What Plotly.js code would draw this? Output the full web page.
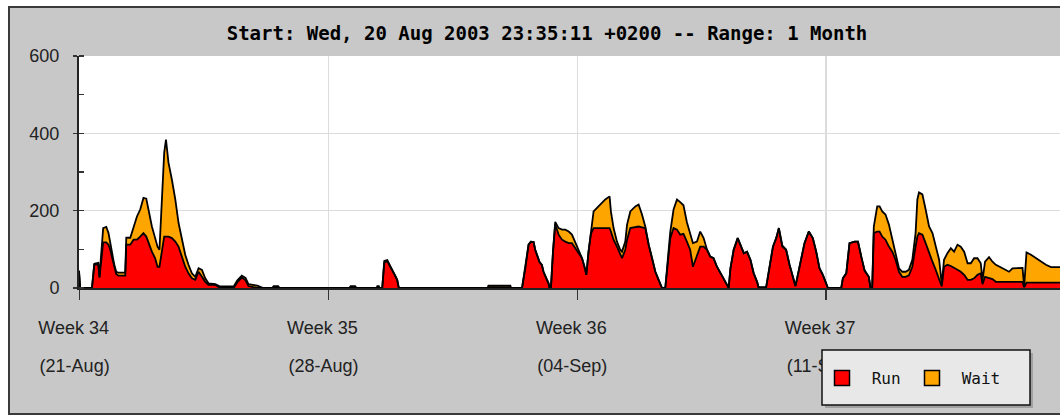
<!DOCTYPE html>
<html>
<head>
<meta charset="utf-8">
<script src="https://cdn.plot.ly/plotly-3.0.1.min.js"></script>
<style>
  html, body { margin: 0; padding: 0; overflow: hidden; background: #ffffff; width: 1060px; height: 417px; }
  #frame { position: absolute; left: 8px; top: 6px; width: 1300px; height: 405px; background: #c8c8c8; border: 2px solid #3a3a3a; }
  #chart { position: absolute; left: 0; top: 0; width: 1200px; height: 417px; }
</style>
</head>
<body>
<div id="frame"></div>
<div id="chart"></div>
<script>
// Hours since 21-Aug-2003 00:00 (chart starts 20 Aug 23:35:11)
const hours = [
  -0.4, 0.4, 8.3, 9.9, 12.6, 13.4, 15.9, 18.0, 19.5, 20.7, 21.8, 23.4, 24.7, 26.1, 30.8, 31.5, 34.2, 36.4, 38.7, 40.9,
  43.1, 45.0, 46.5, 48.8, 51.0, 52.6, 53.9, 57.1, 58.3, 60.0, 62.3, 64.6, 66.8, 69.1, 71.3, 73.5, 75.8, 78.1, 80.3, 82.6,
  84.8, 87.0, 91.6, 94.9, 104.0, 106.5, 109.5, 112.0, 114.0, 120.0, 123.0, 124.0, 130.0, 131.0, 134.0, 135.0, 182.0, 183.0, 186.0, 187.0,
  200.5, 201.0, 202.0, 202.5, 204.3, 205.7, 207.7, 209.7, 211.0, 212.8, 214.4, 215.5, 275.5, 276.0, 290.8, 291.3, 298.7, 300.9, 302.0, 303.1,
  304.7, 306.5, 307.6, 308.8, 310.5, 312.1, 313.2, 315.1, 316.6, 317.3, 318.2, 319.6, 321.1, 323.4, 325.7, 327.9, 330.2, 332.4, 334.7, 336.9,
  339.2, 341.4, 342.1, 343.6, 345.2, 347.0, 349.3, 351.5, 354.9, 357.8, 358.7, 360.5, 362.8, 365.0, 366.2, 368.4, 369.6, 371.8, 375.2, 377.4,
  379.7, 381.9, 384.2, 386.5, 388.7, 390.9, 393.2, 395.4, 396.6, 398.8, 401.0, 403.3, 405.5, 407.7, 410.0, 412.2, 414.1, 416.8, 419.0, 421.3,
  423.6, 425.8, 428.0, 430.3, 432.6, 434.8, 437.1, 438.2, 439.4, 441.6, 444.3, 446.1, 448.4, 450.6, 452.9, 455.1, 457.4, 458.5, 459.0, 463.5,
  465.8, 468.1, 470.3, 472.1, 474.4, 477.0, 479.3, 481.5, 483.3, 484.9, 487.1, 489.4, 492.3, 495.0, 497.3, 499.5, 501.8, 504.0, 505.2, 514.2,
  515.3, 517.6, 519.8, 523.2, 525.5, 527.8, 530.0, 532.8, 534.0, 535.1, 536.2, 538.5, 540.1, 541.9, 544.1, 546.4, 548.7, 550.9, 553.2, 555.4,
  557.7, 559.9, 562.2, 564.4, 565.6, 566.7, 569.0, 571.2, 573.5, 575.8, 578.0, 580.3, 582.1, 583.6, 585.9, 588.2, 590.4, 592.7, 594.9, 597.2,
  599.5, 601.7, 603.9, 606.2, 608.4, 609.6, 611.3, 614.0, 616.3, 618.6, 623.1, 627.5, 629.8, 634.3, 636.6, 637.7, 639.3, 642.3, 645.6, 649.0,
  652.4, 655.8, 659.2, 662.0
];
const runJobs = [
  40, 0, 0, 60, 62, 27, 118, 118, 112, 99, 81, 55, 36, 32, 32, 112, 112, 125, 125, 133,
  142, 133, 116, 94, 77, 55, 55, 133, 133, 133, 129, 120, 107, 81, 55, 38, 25, 21, 42, 29,
  16, 8, 8, 0, 0, 15, 27, 20, 5, 0, 0, 0, 0, 0, 0, 0, 0, 0, 0, 0,
  0, 0, 0, 0, 0, 65, 70, 55, 47, 34, 21, 0, 0, 2, 2, 0, 0, 51, 86, 112,
  120, 119, 99, 86, 67, 60, 42, 25, 12, 0, 0, 94, 165, 138, 125, 120, 116, 116, 103, 90,
  77, 47, 34, 94, 140, 155, 155, 155, 155, 155, 146, 125, 107, 86, 77, 99, 125, 155, 157, 159,
  157, 155, 112, 77, 42, 21, 0, 0, 51, 129, 155, 151, 138, 140, 120, 99, 55, 86, 107, 107,
  99, 81, 77, 55, 38, 21, 8, 0, 51, 99, 129, 112, 90, 94, 73, 38, 16, 0, 1, 1,
  60, 107, 129, 155, 107, 99, 60, 29, 5, 34, 77, 116, 146, 129, 94, 51, 34, 12, 0, 0,
  25, 38, 116, 120, 120, 80, 45, 29, 0, 0, 142, 146, 146, 133, 125, 107, 94, 73, 42, 29,
  29, 33, 55, 107, 133, 142, 138, 116, 90, 68, 47, 21, 4, 55, 60, 57, 51, 47, 42, 34,
  21, 21, 25, 34, 38, 10, 29, 25, 23, 16, 16, 16, 16, 16, 16, 2, 14, 14, 14, 14,
  14, 14, 14, 14
];
const waitJobs = [
  5, 0, 0, 3, 3, 2, 37, 40, 30, 17, 9, 5, 6, 8, 8, 18, 18, 34, 60, 70,
  91, 98, 87, 65, 52, 52, 44, 217, 251, 191, 151, 109, 61, 44, 31, 22, 13, 8, 9, 18,
  9, 4, 2, 4, 4, 5, 5, 6, 5, 6, 3, 0, 0, 5, 5, 0, 0, 5, 5, 0,
  0, 5, 5, 0, 0, 5, 2, 2, 1, 1, 0, 0, 0, 4, 4, 0, 0, 0, 0, 0,
  0, 0, 0, 0, 0, 0, 0, 0, 0, 0, 0, 0, 6, 17, 26, 31, 30, 22, 13, 4,
  0, 0, 0, 0, 6, 43, 52, 61, 74, 82, 52, 30, 13, 13, 17, 21, 39, 43, 54, 57,
  33, 4, 0, 0, 0, 0, 0, 0, 0, 17, 48, 78, 84, 74, 50, 39, 61, 34, 39, 22,
  0, 0, 0, 0, 0, 0, 0, 0, 0, 0, 0, 0, 0, 0, 0, 0, 0, 0, 1, 1,
  0, 0, 0, 0, 3, 0, 0, 0, 0, 0, 0, 0, 0, 0, 0, 0, 0, 0, 0, 0,
  0, 0, 0, 0, 0, 0, 0, 0, 0, 0, 17, 65, 65, 65, 65, 57, 31, 21, 9, 13,
  13, 14, 18, 35, 96, 105, 104, 87, 69, 74, 60, 52, 6, 18, 30, 46, 43, 65, 65, 60,
  43, 43, 52, 43, 26, 11, 39, 55, 45, 44, 35, 26, 35, 36, 36, 2, 78, 72, 63, 54,
  46, 40, 40, 40
];
const weekTicks = [0, 168, 336, 504];
const weekLabels = ['Week 34', 'Week 35', 'Week 36', 'Week 37'];
const dateLabels = ['(21-Aug)', '(28-Aug)', '(04-Sep)', '(11-Sep)'];
const xRange = [-0.42, 743.6];
const yRange = [0, 600];
const seriesNames = ['Run', 'Wait'];
const seriesColors = ['#ff0000', '#ffa500'];
const titleText = 'Start: Wed, 20 Aug 2003 23:35:11 +0200 -- Range: 1 Month';

const axisFont = { family: 'Liberation Sans, Arial, sans-serif', size: 18, color: '#222' };
const monoFont = 'DejaVu Sans Mono, monospace';

const traces = [
  {
    x: hours, y: runJobs, name: seriesNames[0], type: 'scatter', mode: 'lines',
    stackgroup: 'jobs', fillcolor: seriesColors[0],
    line: { color: '#000', width: 1.8 }, showlegend: false, hoverinfo: 'x+y'
  },
  {
    x: hours, y: waitJobs, name: seriesNames[1], type: 'scatter', mode: 'lines',
    stackgroup: 'jobs', fillcolor: seriesColors[1],
    line: { color: '#000', width: 1.8 }, showlegend: false, hoverinfo: 'x+y'
  },
  // legend entries
  {
    x: [null], y: [null], name: '\u00a0' + seriesNames[0], type: 'scatter', mode: 'markers',
    marker: { symbol: 'square', size: 15, color: seriesColors[0], line: { color: '#000', width: 1.5 } },
    hoverinfo: 'skip'
  },
  {
    x: [null], y: [null], name: '\u00a0' + seriesNames[1], type: 'scatter', mode: 'markers',
    marker: { symbol: 'square', size: 15, color: seriesColors[1], line: { color: '#000', width: 1.5 } },
    hoverinfo: 'skip'
  },
  // second label row carrier
  { x: [], y: [], xaxis: 'x2', yaxis: 'y', type: 'scatter', mode: 'lines', showlegend: false, hoverinfo: 'skip' }
];

// plot area: x 79..1181, y 56..288
const W = 1200, L = 79, R = 19, T = 56, B = 129;
const pw = W - L - R, ph = 417 - T - B;
const px = v => (v - L) / pw;
const py = v => (417 - B - v) / ph;

const layout = {
  width: W, height: 417,
  margin: { l: L, r: R, t: T, b: B },
  paper_bgcolor: 'rgba(0,0,0,0)',
  plot_bgcolor: '#ffffff',
  title: {
    text: titleText,
    font: { family: monoFont, size: 19, color: '#000', weight: 'bold' },
    x: 547 / W, xref: 'container', xanchor: 'center',
    y: 1 - 33 / 417, yref: 'container', yanchor: 'middle'
  },
  xaxis: {
    range: xRange, tickmode: 'array', tickvals: weekTicks, ticktext: weekLabels,
    ticks: 'outside', ticklen: 10, tickwidth: 1.5, tickcolor: '#333',
    showgrid: true, gridcolor: '#dcdcdc', gridwidth: 1.5,
    showline: true, linecolor: '#222', linewidth: 2, zeroline: false,
    tickfont: axisFont, ticklabelshift: -6, ticklabelstandoff: 12,
    fixedrange: true
  },
  xaxis2: {
    range: xRange, overlaying: 'x', anchor: 'y', side: 'bottom',
    tickmode: 'array', tickvals: weekTicks, ticktext: dateLabels,
    ticks: '', showgrid: false, showline: false, zeroline: false,
    tickfont: axisFont, ticklabelshift: -5, ticklabelstandoff: 65,
    fixedrange: true
  },
  yaxis: {
    range: yRange, tickmode: 'linear', tick0: 0, dtick: 200,
    ticks: 'outside', ticklen: 4, tickwidth: 1.5, tickcolor: '#333',
    minor: { dtick: 100, ticks: 'inside', ticklen: 5, tickwidth: 1.5, tickcolor: '#333', showgrid: false },
    showgrid: true, gridcolor: '#dcdcdc', gridwidth: 1.5,
    showline: true, linecolor: '#222', linewidth: 2, zeroline: false,
    tickfont: axisFont, ticklabelstandoff: 10,
    fixedrange: true
  },
  shapes: [
    { type: 'rect', xref: 'paper', yref: 'paper', layer: 'above',
      x0: px(825), x1: px(1033), y0: py(408), y1: py(353),
      fillcolor: '#a0a0a0', line: { width: 0 } },
    { type: 'rect', xref: 'paper', yref: 'paper', layer: 'above',
      x0: px(822), x1: px(1030), y0: py(405), y1: py(350),
      fillcolor: '#e8e8e8', line: { color: '#111', width: 1.5 } }
  ],
  showlegend: true,
  legend: {
    orientation: 'h', x: px(822), xanchor: 'left', y: py(378), yanchor: 'middle',
    traceorder: 'normal',
    bgcolor: 'rgba(0,0,0,0)', borderwidth: 0,
    font: { family: monoFont, size: 16, color: '#111' },
    entrywidth: 45, itemclick: false, itemdoubleclick: false
  }
};

Plotly.newPlot('chart', traces, layout, { displayModeBar: false, staticPlot: true });
</script>
</body>
</html>
